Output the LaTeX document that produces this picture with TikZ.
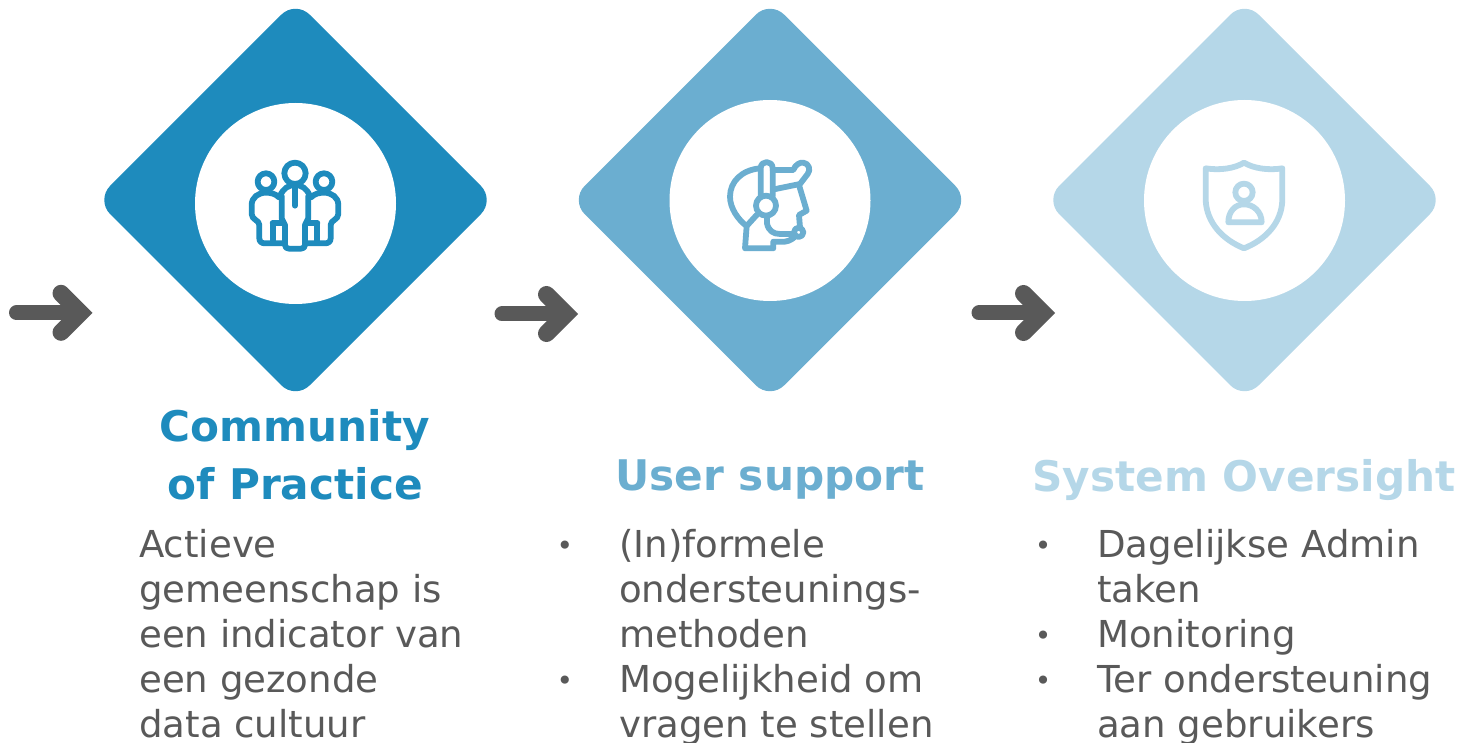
\documentclass[tikz,border=0pt]{standalone}
\usepackage{fontspec}
\setmainfont{DejaVu Sans}
\definecolor{cdark}{HTML}{1E8BBD}
\definecolor{cmid}{HTML}{6BAED0}
\definecolor{clight}{HTML}{B5D7E8}
\definecolor{cgrey}{HTML}{595959}
\tikzset{
  x=1pt,y=-1pt,
  dia/.style={rounded corners=20pt},
  hole/.style={fill=white},
  blockarrow/.style={draw=cgrey,line width=15pt,line cap=round,line join=miter},
  blockhead/.style={draw=cgrey,line width=17pt,line cap=round,line join=miter},
  icon/.style={line width=5.8pt,line cap=round,line join=round},
  heading/.style={font=\bfseries\fontsize{42.2}{57.5}\selectfont,align=center,inner sep=0pt},
  body/.style={font=\fontsize{37.1}{45}\selectfont,text=cgrey,align=left,inner sep=0pt,anchor=north west},
  dot/.style={font=\fontsize{28}{45}\selectfont,text=cgrey,inner sep=0pt,anchor=base}
}
\begin{document}
\begin{tikzpicture}
\useasboundingbox (0,0) rectangle (1459,743);
% diamonds
\fill[cdark,dia] (295.5,0.5) -- (495,200) -- (295.5,399.5) -- (96,200) -- cycle;
\fill[cmid,dia] (770,0.5) -- (969.5,200) -- (770,399.5) -- (570.5,200) -- cycle;
\fill[clight,dia] (1244.5,0.5) -- (1444,200) -- (1244.5,399.5) -- (1045,200) -- cycle;
\fill[hole] (295.5,203.5) circle (100.5);
\fill[hole] (770,200.5) circle (100.5);
\fill[hole] (1244.5,200.5) circle (100.5);
% arrows
\foreach \n/\xa/\yy in {a/16.5/312.8,b/502/314,c/979/313}{
  \coordinate (\n s) at (\xa,\yy);
  \coordinate (\n t) at (\xa+64,\yy);
  \coordinate (\n u) at (\xa+44.5,\yy-19.5);
  \coordinate (\n d) at (\xa+44.5,\yy+19.5);
  \draw[blockarrow] (\n s) -- (\n t);
  \draw[blockhead] (\n u) -- (\n t) -- (\n d);
}
% people icon
\begin{scope}[shift={(230,140)},x=0.3333pt,y=-0.3333pt,draw=cdark,icon]
\draw (195,100) circle (32);
\draw (108,125) circle (25);
\draw (282,125) circle (25);
\draw (195,142) -- (195,197);
\draw (150,168) .. controls (160,145) and (175,135) .. (195,135) .. controls (215,135) and (230,145) .. (240,168);
\draw (155,168) -- (155,235) .. controls (155,245) and (165,245) .. (165,255) -- (165,315) .. controls (165,322) and (170,326) .. (177,326) -- (213,326) .. controls (220,326) and (225,322) .. (225,315) -- (225,255) .. controls (225,245) and (235,245) .. (235,235) -- (235,168);
\draw (147,172) .. controls (135,160) and (120,158) .. (108,158) .. controls (85,158) and (65,172) .. (65,195) -- (65,222) .. controls (65,240) and (88,240) .. (88,255) -- (88,295) .. controls (88,305) and (95,310) .. (105,310) -- (160,310);
\draw (128,250) -- (155,250);
\draw (128,250) -- (128,305);
\draw (243,172) .. controls (255,160) and (270,158) .. (282,158) .. controls (305,158) and (325,172) .. (325,195) -- (325,222) .. controls (325,240) and (302,240) .. (302,255) -- (302,295) .. controls (302,305) and (295,310) .. (285,310) -- (230,310);
\draw (262,250) -- (235,250);
\draw (262,250) -- (262,305);
\end{scope}
% headset icon
\begin{scope}[shift={(705,140)},x=0.3333pt,y=-0.3333pt,draw=cmid,icon]
\draw (165,85) .. controls (110,90) and (75,125) .. (75,170) .. controls (75,205) and (100,240) .. (125,258);
\draw (125,258) -- (155,225);
\draw (125,258) -- (120,325) -- (205,325) -- (205,305) -- (240,305) .. controls (255,303) and (265,295) .. (272,288);
\draw (167,168) -- (167,85) .. controls (167,60) and (203,60) .. (203,85) -- (203,168);
\draw (183,197) circle (30);
\draw (203,90) -- (265,90) .. controls (270,75) and (285,66) .. (295,68) .. controls (312,70) and (318,90) .. (308,102) -- (285,132) -- (207,148);
\draw (282,135) -- (305,212) -- (282,225) -- (285,262);
\draw (186,228) -- (186,250) .. controls (190,272) and (205,282) .. (225,282) -- (265,282);
\draw (281,277) circle (14);
\end{scope}
% shield icon
\begin{scope}[shift={(1180,140)},x=0.3333pt,y=-0.3333pt,draw=clight,icon]
\draw (192,68) .. controls (165,85) and (120,92) .. (77,85) -- (77,180) .. controls (80,250) and (130,300) .. (192,325) .. controls (255,300) and (305,250) .. (307,180) -- (307,85) .. controls (265,92) and (220,85) .. (192,68) -- cycle;
\draw (192,157) circle (26);
\draw (145,247) .. controls (145,215) and (165,193) .. (192,193) .. controls (220,193) and (245,215) .. (245,247) -- cycle;
\end{scope}
% headings
\node[heading,text=cdark,anchor=center] (h1) at (295,455) {Community\\of Practice};
\node[heading,text=cmid,anchor=center] (h2) at (770,480) {User support};
\node[heading,text=clight,anchor=center] (h3) at (1244,480) {System Oversight};
% body
\node[body] (b1) at (139,529) {Actieve\\gemeenschap is\\een indicator van\\een gezonde\\data cultuur};
\node[body] (b2) at (619,529) {(In)formele\\ondersteunings-\\methoden\\Mogelijkheid om\\vragen te stellen};
\node[body] (b3) at (1097,529) {Dagelijkse Admin\\taken\\Monitoring\\Ter ondersteuning\\aan gebruikers};
\node[dot] (d1) at (565,555.7) {•};
\node[dot] (d2) at (565,690.7) {•};
\node[dot] (d3) at (1043,555.7) {•};
\node[dot] (d4) at (1043,645.7) {•};
\node[dot] (d5) at (1043,690.7) {•};
\end{tikzpicture}
\end{document}
